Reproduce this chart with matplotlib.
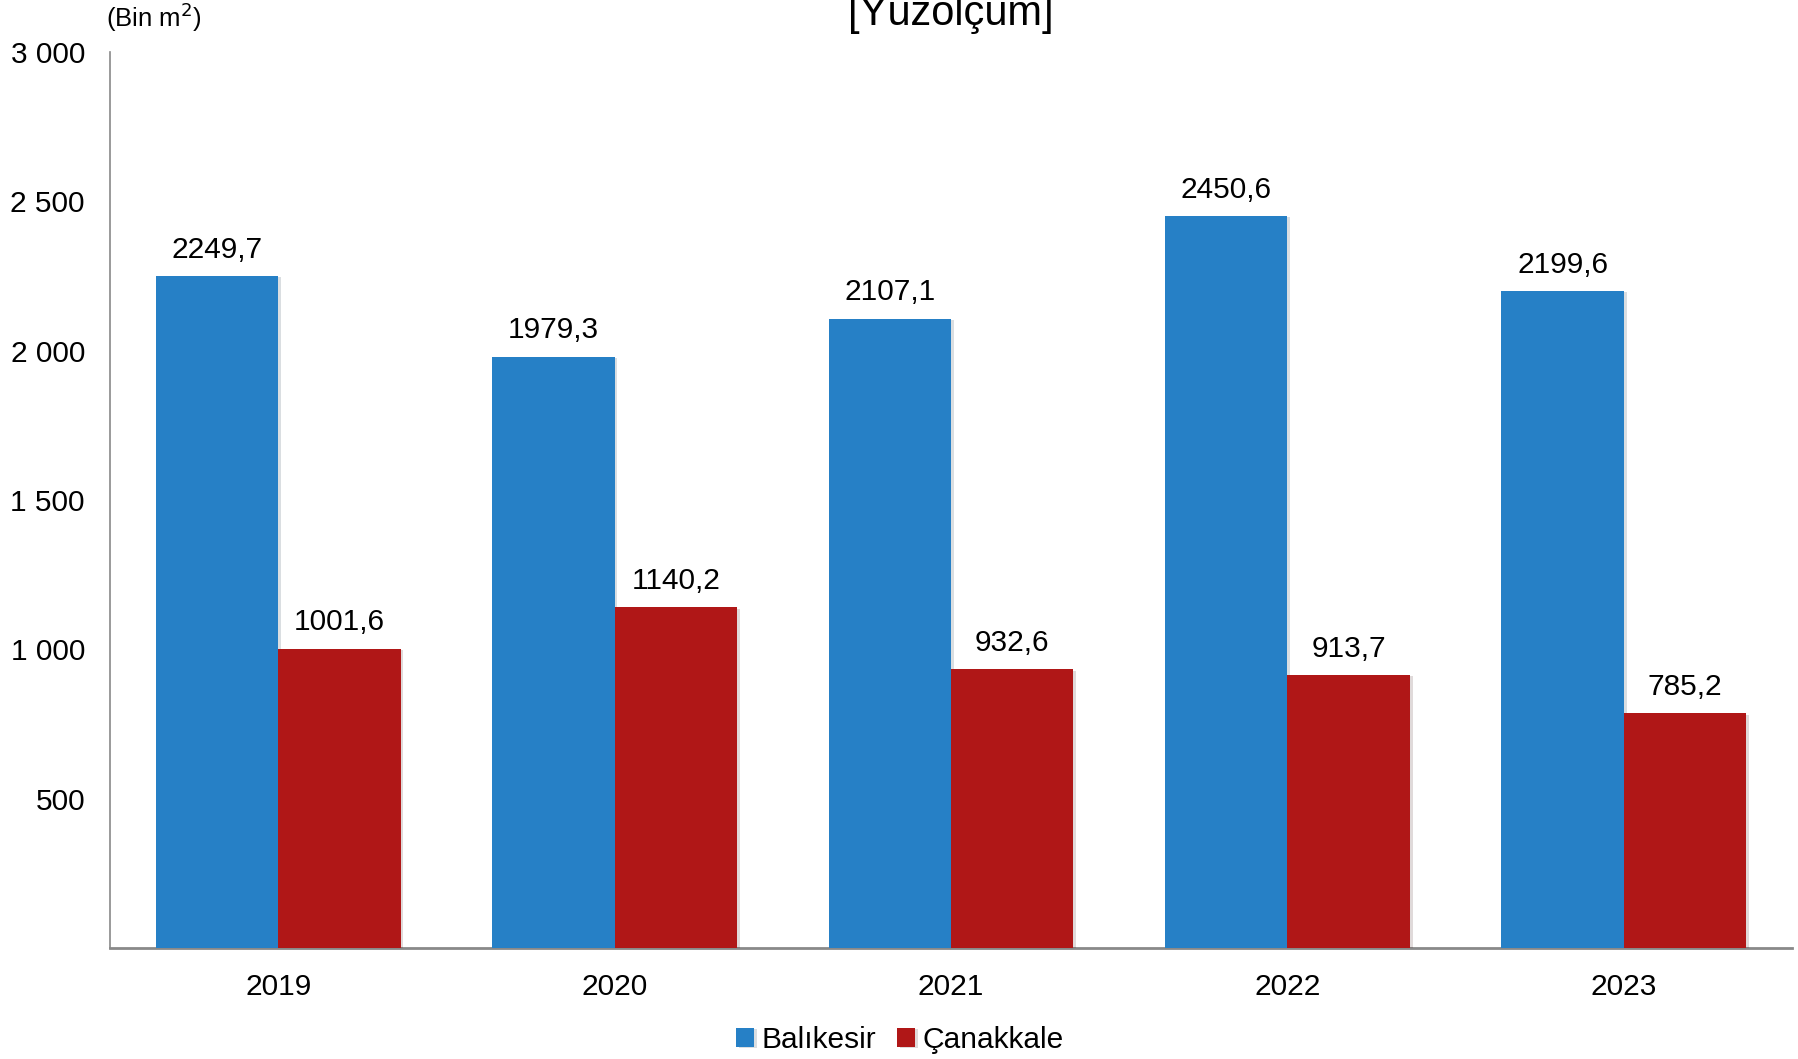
import matplotlib
matplotlib.use("Agg")
import matplotlib.pyplot as plt
import matplotlib.patheffects as pe
import numpy as np

plt.rcParams["font.family"] = ["Liberation Sans", "DejaVu Sans"]

years = ["2019", "2020", "2021", "2022", "2023"]
balikesir = [2249.7, 1979.3, 2107.1, 2450.6, 2199.6]
canakkale = [1001.6, 1140.2, 932.6, 913.7, 785.2]
yticks = [500, 1000, 1500, 2000, 2500, 3000]

BLUE = "#2680C6"
RED = "#B01717"
GREY = "#898989"
FS = 21.5


def fmt_tr(v):
    return f"{v:.1f}".replace(".", ",")


fig = plt.figure(figsize=(17.98, 10.59), dpi=100)
ax = fig.add_axes([110 / 1798, 1 - 948 / 1059, (1792 - 110) / 1798, (948 - 52) / 1059])

x = np.arange(len(years))
w = 1 / 2.75
shadow = [pe.SimplePatchShadow(offset=(2, -1), alpha=0.15), pe.Normal()]
b1 = ax.bar(x - w / 2, balikesir, w, color=BLUE, label="Balıkesir", zorder=3, path_effects=shadow)
b2 = ax.bar(x + w / 2, canakkale, w, color=RED, label="Çanakkale", zorder=3, path_effects=shadow)

for bars, vals in ((b1, balikesir), (b2, canakkale)):
    for r, v in zip(bars, vals):
        ax.annotate(fmt_tr(v), (r.get_x() + r.get_width() / 2, v), xytext=(0, 9),
                    textcoords="offset points", ha="center", va="bottom", fontsize=FS)

ax.set_xlim(-0.5, len(years) - 0.5)
ax.set_ylim(0, 3000)
ax.set_yticks(yticks)
ax.set_yticklabels([f"{t:,}".replace(",", " ") for t in yticks], fontsize=FS)
ax.set_xticks(x)
ax.set_xticklabels(years, fontsize=FS)
ax.tick_params(axis="both", length=0)
ax.tick_params(axis="y", pad=18)
ax.tick_params(axis="x", pad=18)

for s in ("top", "right"):
    ax.spines[s].set_visible(False)
for s in ("left", "bottom"):
    ax.spines[s].set_color(GREY)
ax.spines["left"].set_linewidth(1.2)
ax.spines["bottom"].set_linewidth(2)

fig.text(951 / 1798, 1 - 25 / 1059, "[Yüzölçüm]", ha="center", va="baseline", fontsize=30)
fig.text(154 / 1798, 1 - 17 / 1059, "(Bin m$^2$)", ha="center", va="center", fontsize=18.5)

fig.legend(handles=[b1, b2], loc="center", bbox_to_anchor=(900 / 1798, 1 - 1040 / 1059),
           ncol=2, frameon=False, fontsize=FS, handlelength=0.6, handleheight=0.6,
           handletextpad=0.25, columnspacing=0.7)

fig.savefig("out.png", dpi=100)
